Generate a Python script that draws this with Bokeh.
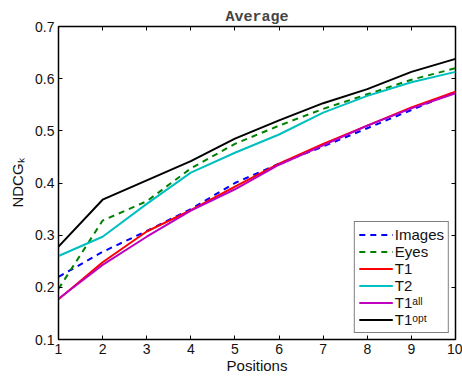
from bokeh.plotting import figure
from bokeh.models import LinearAxis, Legend, LegendItem, FixedTicker, Range1d
from bokeh.embed import file_html
from bokeh.resources import INLINE

positions = [1, 2, 3, 4, 5, 6, 7, 8, 9, 10]
images = [0.220, 0.268, 0.308, 0.350, 0.400, 0.437, 0.470, 0.505, 0.540, 0.575]
eyes = [0.197, 0.328, 0.365, 0.428, 0.475, 0.510, 0.542, 0.570, 0.598, 0.620]
t1 = [0.177, 0.248, 0.307, 0.348, 0.393, 0.437, 0.475, 0.510, 0.545, 0.575]
t2 = [0.260, 0.297, 0.360, 0.420, 0.458, 0.493, 0.535, 0.567, 0.593, 0.613]
t1_all = [0.178, 0.243, 0.297, 0.347, 0.388, 0.435, 0.472, 0.510, 0.543, 0.572]
t1_opt = [0.278, 0.368, 0.405, 0.442, 0.485, 0.520, 0.553, 0.580, 0.613, 0.638]
y_ticks = [0.1, 0.2, 0.3, 0.4, 0.5, 0.6, 0.7]

FONT = "Liberation Sans"

p = figure(width=462, height=381, output_backend="svg", toolbar_location=None,
           x_range=Range1d(1, 10), y_range=Range1d(0.1, 0.7),
           min_border_left=58, min_border_right=7, min_border_top=26, min_border_bottom=42)
p.title.text = "Average"
p.title.text_font = "Liberation Mono"
p.title.text_font_style = "bold"
p.title.text_font_size = "15px"
p.title.align = "center"
p.title.offset = 0
p.title.standoff = 1

p.xgrid.visible = False
p.ygrid.visible = False
p.outline_line_color = "black"
p.outline_line_width = 1.5
p.background_fill_color = "white"
p.border_fill_color = "white"

for ax in [p.xaxis[0], p.yaxis[0]]:
    ax.major_tick_in = 4
    ax.major_tick_out = 0
    ax.minor_tick_line_color = None
    ax.axis_line_color = "black"
    ax.major_label_text_font = FONT
    ax.major_label_text_font_size = "14px"
    ax.major_label_text_color = "#111111"
    ax.axis_label_text_font = FONT
    ax.axis_label_text_font_size = "15px"
    ax.axis_label_text_font_style = "normal"
    ax.axis_label_text_color = "#111111"

p.xaxis.ticker = FixedTicker(ticks=positions)
p.yaxis.ticker = FixedTicker(ticks=y_ticks)
p.yaxis.formatter.use_scientific = False
p.xaxis.axis_label = "Positions"
p.yaxis.axis_label = "NDCGₖ"
p.xaxis.major_label_standoff = 4
p.yaxis.major_label_standoff = 4
p.xaxis.axis_label_standoff = 0
p.yaxis.axis_label_standoff = 6

right = LinearAxis(ticker=FixedTicker(ticks=y_ticks), major_label_text_font_size="0px",
                   major_tick_in=4, major_tick_out=0, minor_tick_line_color=None,
                   axis_line_color=None)
right.major_label_text_color = None
top = LinearAxis(ticker=FixedTicker(ticks=positions), major_label_text_font_size="0px",
                 major_tick_in=4, major_tick_out=0, minor_tick_line_color=None,
                 axis_line_color=None)
top.major_label_text_color = None
p.add_layout(right, "right")
p.add_layout(top, "above")
p.min_border_right = 7

series = [
    ("Images", images, "#0000ff", "6 5"),
    ("Eyes", eyes, "#008000", "6 5"),
    ("T1", t1, "#ff0000", "solid"),
    ("T2", t2, "#00bfbf", "solid"),
    ("T1ᵃˡˡ", t1_all, "#bf00bf", "solid"),
    ("T1ᵒᵖᵗ", t1_opt, "#000000", "solid"),
]
items = []
for name, vals, color, dash in series:
    r = p.line(positions, vals, line_color=color, line_width=2, line_dash=dash)
    items.append(LegendItem(label=name, renderers=[r]))

legend = Legend(items=items, location="bottom_right")
legend.margin = 6
legend.padding = 4
legend.spacing = 0
legend.glyph_width = 34
legend.glyph_height = 17
legend.label_height = 17
legend.label_standoff = 2
legend.label_text_font = FONT
legend.label_text_font_size = "15px"
legend.label_text_color = "#111111"
legend.border_line_color = "black"
legend.border_line_width = 1
legend.background_fill_alpha = 1
p.add_layout(legend, "center")

open("out.html", "w").write(file_html(p, INLINE))
